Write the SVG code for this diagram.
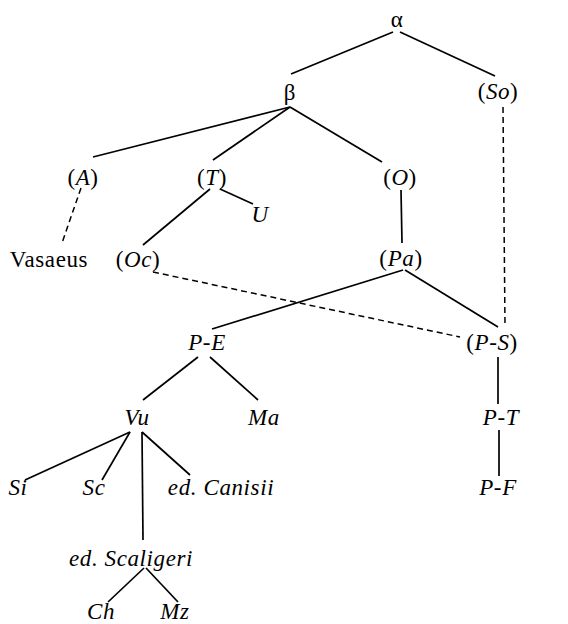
<svg xmlns="http://www.w3.org/2000/svg" width="568" height="624" viewBox="0 0 568 624">
<style>
text{font-family:'Liberation Serif','Times New Roman',serif;font-size:23px;fill:#000;text-anchor:middle;letter-spacing:0.6px}
.i{font-style:italic}
.l{stroke:#000;stroke-width:1.7;fill:none}
.d{stroke:#000;stroke-width:1.5;fill:none;stroke-dasharray:6,4}
</style>
<rect width="568" height="624" fill="#fff"/>
<g id="connectors">
<line class="l" x1="393" y1="32" x2="291" y2="74"/>
<line class="l" x1="400" y1="32" x2="495" y2="76"/>
<line class="l" x1="290" y1="107" x2="93" y2="157"/>
<line class="l" x1="290" y1="107" x2="213" y2="160"/>
<line class="l" x1="290" y1="107" x2="382" y2="162"/>
<line class="d" x1="81" y1="188" x2="62" y2="243"/>
<line class="l" x1="210" y1="189" x2="143" y2="245"/>
<line class="l" x1="220" y1="189" x2="253" y2="204"/>
<line class="l" x1="401" y1="190" x2="402" y2="243"/>
<line class="d" x1="503" y1="107" x2="505" y2="325"/>
<line class="d" x1="153" y1="272" x2="460" y2="337"/>
<line class="l" x1="403" y1="270" x2="212" y2="329"/>
<line class="l" x1="405" y1="270" x2="498" y2="327"/>
<line class="l" x1="198" y1="357" x2="143" y2="400"/>
<line class="l" x1="210" y1="357" x2="258" y2="400"/>
<line class="l" x1="498" y1="357" x2="498" y2="404"/>
<line class="l" x1="130" y1="432" x2="25" y2="480"/>
<line class="l" x1="130" y1="432" x2="102" y2="480"/>
<line class="l" x1="142" y1="432" x2="143" y2="540"/>
<line class="l" x1="142" y1="432" x2="190" y2="475"/>
<line class="l" x1="499" y1="430" x2="499" y2="476"/>
<line class="l" x1="144" y1="568" x2="108" y2="602"/>
<line class="l" x1="146" y1="568" x2="178" y2="602"/>
</g>
<g id="alpha"><text x="397" y="27">α</text></g>
<g id="beta"><text x="290" y="100">β</text></g>
<g id="So"><text x="498" y="99">(<tspan class="i">So</tspan>)</text></g>
<g id="A"><text x="83" y="185">(<tspan class="i">A</tspan>)</text></g>
<g id="T"><text x="212" y="185">(<tspan class="i">T</tspan>)</text></g>
<g id="O"><text x="400" y="185">(<tspan class="i">O</tspan>)</text></g>
<g id="U"><text class="i" x="260" y="222">U</text></g>
<g id="Vasaeus"><text x="49" y="267">Vasaeus</text></g>
<g id="Oc"><text x="138" y="267">(<tspan class="i">Oc</tspan>)</text></g>
<g id="Pa"><text x="401" y="266">(<tspan class="i">Pa</tspan>)</text></g>
<g id="PE"><text class="i" x="207" y="350">P-E</text></g>
<g id="PS"><text x="492" y="350">(<tspan class="i">P-S</tspan>)</text></g>
<g id="Vu"><text class="i" x="137" y="425">Vu</text></g>
<g id="Ma"><text class="i" x="264" y="425">Ma</text></g>
<g id="PT"><text class="i" x="501" y="425">P-T</text></g>
<g id="Si"><text class="i" x="18" y="495">Si</text></g>
<g id="Sc"><text class="i" x="94" y="495">Sc</text></g>
<g id="Canisii"><text class="i" x="221" y="495">ed. Canisii</text></g>
<g id="PF"><text class="i" x="498" y="495">P-F</text></g>
<g id="Scaligeri"><text class="i" x="131" y="566">ed. Scaligeri</text></g>
<g id="Ch"><text class="i" x="101" y="619">Ch</text></g>
<g id="Mz"><text class="i" x="175" y="619">Mz</text></g>
</svg>
